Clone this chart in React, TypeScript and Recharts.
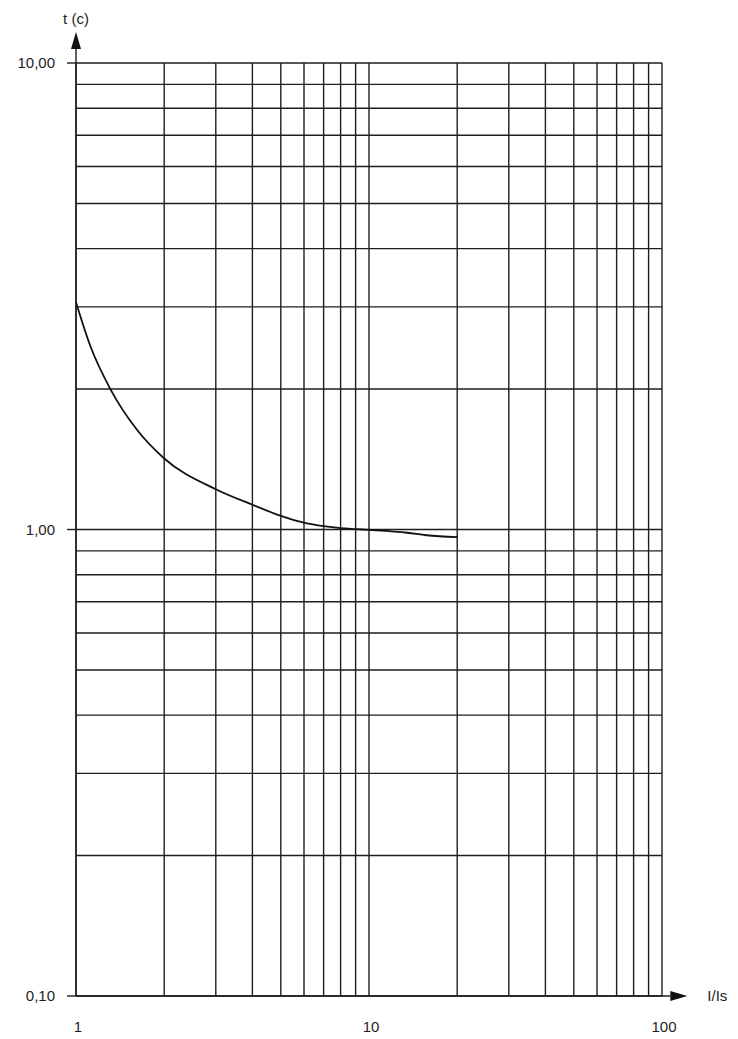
import React from 'react';
import { ComposedChart, Line, XAxis, YAxis, CartesianGrid, ReferenceLine } from 'recharts';

// Curve: tripping time t (s) versus current multiple I/Is
const currentRatio = [1, 1.12, 1.31, 1.61, 2, 3, 4, 5, 6, 7, 8, 9, 10, 13.5, 15.7, 20];
const tripTime = [3.07, 2.47, 2.0, 1.64, 1.42, 1.22, 1.13, 1.07, 1.035, 1.017, 1.007, 1.002, 0.998, 0.984, 0.972, 0.963];

// Grid / tick values
const xGridTicks = [1, 2, 3, 4, 5, 6, 7, 8, 9, 10, 20, 30, 40, 50, 60, 70, 80, 90, 100];
const yGridTicks = [0.1, 0.2, 0.3, 0.4, 0.5, 0.6, 0.7, 0.8, 0.9, 1, 2, 3, 4, 5, 6, 7, 8, 9, 10];
const xLabelTicks = [1, 10, 100];
const yLabelTicks = [0.1, 1, 10];

// Axis extents (arrow tips) beyond the plotted domain
const xAxisArrowEnd = 122;
const yAxisArrowEnd = 11.65;

const xAxisLabel = 'I/Is';
const yAxisLabel = 't (c)';

const curve = currentRatio.map((x, i) => ({ x, t: tripTime[i] }));

const FONT = '"Liberation Sans", Arial, sans-serif';
const INK = '#1e1e1e';

const formatY = (v: number) => v.toFixed(2).replace('.', ',');

const XTick = (props: any) => {
  const { x, y, payload } = props;
  if (!xLabelTicks.includes(payload.value)) return <g />;
  return (
    <text x={x + 2} y={y + 36} textAnchor="middle" fontFamily={FONT} fontSize={15} fill={INK}>
      {String(payload.value)}
    </text>
  );
};

const YTick = (props: any) => {
  const { x, y, payload } = props;
  if (!yLabelTicks.includes(payload.value)) return <g />;
  return (
    <g>
      <line x1={x - 9} x2={x} y1={y} y2={y} stroke={INK} strokeWidth={1.4} />
      <text x={x - 21} y={y + 5} textAnchor="end" fontFamily={FONT} fontSize={15} fill={INK}>
        {formatY(payload.value)}
      </text>
    </g>
  );
};

const ArrowAxis = (props: any) => {
  const { x1, y1, x2, y2, text, textDx, textDy, anchor } = props;
  const dx = x2 - x1;
  const dy = y2 - y1;
  const len = Math.hypot(dx, dy) || 1;
  const ux = dx / len;
  const uy = dy / len;
  const head = 17;
  const half = 5;
  const bx = x2 - ux * head;
  const by = y2 - uy * head;
  const px = -uy;
  const py = ux;
  return (
    <g>
      <line x1={x1} y1={y1} x2={bx} y2={by} stroke={INK} strokeWidth={1.4} />
      <polygon
        points={`${x2},${y2} ${bx + px * half},${by + py * half} ${bx - px * half},${by - py * half}`}
        fill="#111"
      />
      <text x={x2 + textDx} y={y2 + textDy} textAnchor={anchor} fontFamily={FONT} fontSize={15} fill={INK}>
        {text}
      </text>
    </g>
  );
};

export default function App() {
  return (
    <div style={{ position: 'absolute', left: 0, top: 0, width: 738, height: 1039, background: '#fff' }}>
      <ComposedChart
        width={738}
        height={1039}
        data={curve}
        margin={{ top: 63, right: 76, bottom: 13, left: 16 }}
      >
        <CartesianGrid stroke={INK} strokeWidth={1.4} />
        <XAxis
          dataKey="x"
          type="number"
          scale="log"
          domain={[1, 100]}
          ticks={xGridTicks}
          interval={0}
          allowDataOverflow
          height={30}
          tickSize={0}
          tickMargin={0}
          tickLine={false}
          axisLine={false}
          tick={XTick}
        />
        <YAxis
          type="number"
          scale="log"
          domain={[0.1, 10]}
          ticks={yGridTicks}
          interval={0}
          allowDataOverflow
          width={60}
          tickSize={0}
          tickMargin={0}
          tickLine={false}
          axisLine={false}
          tick={YTick}
        />
        <ReferenceLine
          segment={[{ x: 1, y: 0.1 }, { x: xAxisArrowEnd, y: 0.1 }]}
          ifOverflow="visible"
          shape={(p: any) => <ArrowAxis {...p} text={xAxisLabel} textDx={20} textDy={5} anchor="start" />}
        />
        <ReferenceLine
          segment={[{ x: 1, y: 0.1 }, { x: 1, y: yAxisArrowEnd }]}
          ifOverflow="visible"
          shape={(p: any) => <ArrowAxis {...p} text={yAxisLabel} textDx={0} textDy={-8} anchor="middle" />}
        />
        <Line
          dataKey="t"
          type="monotone"
          stroke="#111"
          strokeWidth={1.8}
          dot={false}
          isAnimationActive={false}
        />
      </ComposedChart>
    </div>
  );
}
